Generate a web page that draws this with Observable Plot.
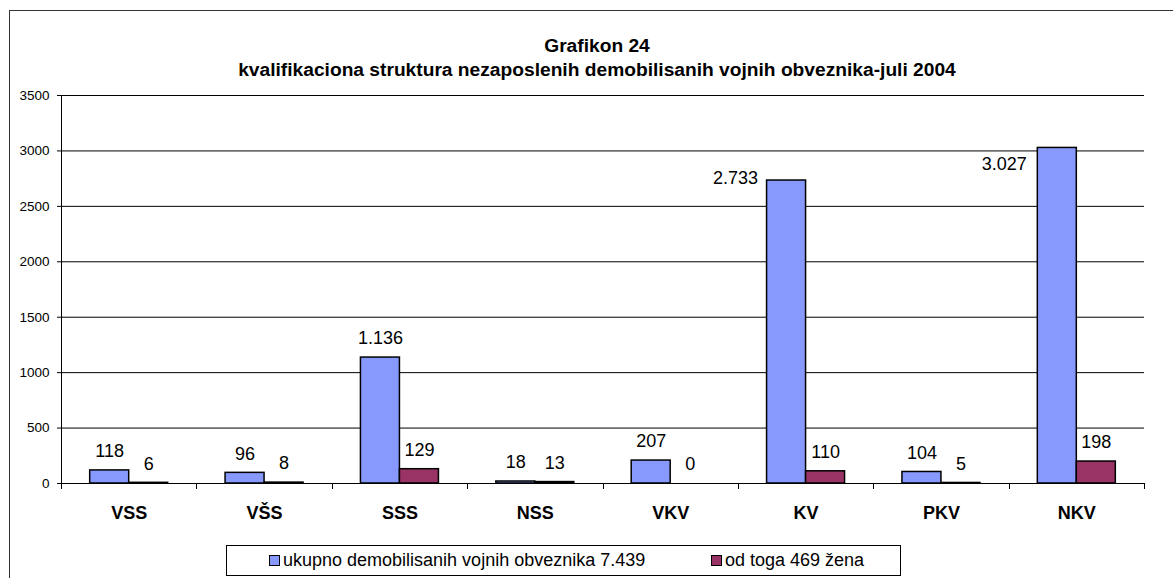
<!DOCTYPE html>
<html>
<head>
<meta charset="utf-8">
<script src="https://cdn.jsdelivr.net/npm/d3@7"></script>
<script src="https://cdn.jsdelivr.net/npm/@observablehq/plot@0.6"></script>
<style>
  html, body { margin: 0; padding: 0; background: #fff; overflow: hidden; }
  #wrap { position: relative; width: 1173px; height: 578px; overflow: hidden; font-family: Arial, "Liberation Sans", sans-serif; color: #000; }
  #border { position: absolute; left: 9px; top: 10px; width: 1200px; height: 600px; border: 1.5px solid #333; box-sizing: border-box; }
  #title { position: absolute; left: 9px; width: 1176px; top: 34px; text-align: center; font-weight: bold; font-size: 19.2px; line-height: 24px; }
  #chart { position: absolute; left: 0; top: 0; }
  #legend { position: absolute; left: 226px; top: 545px; width: 675px; height: 31px; border: 1px solid #000; box-sizing: border-box; background: #fff; font-size: 18px; }
  .item { position: absolute; top: 0; height: 29px; display: flex; align-items: center; white-space: nowrap; }
  .sw { width: 11px; height: 11px; border: 1.5px solid #000; box-sizing: border-box; margin-right: 3px; }
</style>
</head>
<body>
<div id="wrap">
  <div id="border"></div>
  <div id="chart"></div>
  <div id="title"></div>
  <div id="legend"></div>
</div>
<script>
const titleLines = ["Grafikon 24", "kvalifikaciona struktura nezaposlenih demobilisanih vojnih obveznika-juli 2004"];
const categories = ["VSS", "VŠS", "SSS", "NSS", "VKV", "KV", "PKV", "NKV"];
const ukupno = [118, 96, 1136, 18, 207, 2733, 104, 3027];
const zene = [6, 8, 129, 13, 0, 110, 5, 198];
const seriesNames = ["ukupno demobilisanih vojnih obveznika 7.439", "od toga 469 žena"];
const seriesColors = ["#8799fc", "#993366"];
const yTicks = [0, 500, 1000, 1500, 2000, 2500, 3000, 3500];

const fmt = d3.formatLocale({decimal: ",", thousands: ".", grouping: [3], currency: ["", ""]}).format(",");

const blueRows = categories.map((c, i) => ({cat: c, value: ukupno[i]}));
const redRows = categories.map((c, i) => ({cat: c, value: zene[i]}));

document.getElementById("title").innerHTML = titleLines.join("<br>");

const W = 1173, H = 578;
const mL = 61, mR = 29, mT = 95, mB = 95;
const step = (W - mL - mR) / categories.length;
const barW = 39;
const outer = step / 2 - barW;

const isTall = d => d.value > 2000;

const boundaryTicks = (index, scales, values, dims) => {
  const g = d3.create("svg:g").attr("stroke", "#000").attr("stroke-width", 1);
  const x = scales.x, y = scales.y;
  const x0 = x(categories[0]);
  const s = x(categories[1]) - x0;
  const yb = y(0), yt = y(yTicks[yTicks.length - 1]);
  for (let i = 0; i <= categories.length; i++) {
    const xx = Math.round(x0 + i * s) + 0.5;
    g.append("line").attr("x1", xx).attr("x2", xx).attr("y1", yb).attr("y2", yb + 6);
  }
  const xa = Math.round(x0) + 0.5;
  g.append("line").attr("x1", xa).attr("x2", xa).attr("y1", yt).attr("y2", yb);
  return g.node();
};

const chart = Plot.plot({
  width: W, height: H,
  marginLeft: mL, marginRight: mR, marginTop: mT, marginBottom: mB,
  style: {fontFamily: 'Arial, "Liberation Sans", sans-serif', fontSize: "13.5px", color: "#000", background: "transparent", overflow: "visible"},
  x: {domain: categories, padding: 0, round: false, label: null},
  y: {domain: [0, 3500], label: null},
  marks: [
    Plot.gridY(yTicks, {stroke: "#000", strokeOpacity: 1, strokeWidth: 1}),
    Plot.axisY({ticks: yTicks, tickSize: 4, tickPadding: 8, fontSize: 13.5, label: null, tickFormat: d => String(d)}),
    Plot.axisX({tickSize: 0, tickPadding: 23, fontSize: 18, fontWeight: "bold", label: null}),
    Plot.barY(blueRows, {x: "cat", y: "value", fill: seriesColors[0], stroke: "#000", strokeWidth: 1.5, insetLeft: outer, insetRight: step / 2}),
    Plot.barY(redRows, {x: "cat", y: "value", fill: seriesColors[1], stroke: "#000", strokeWidth: 1.5, insetLeft: step / 2, insetRight: outer}),
    Plot.ruleY([0], {stroke: "#000", strokeWidth: 1}),
    boundaryTicks,
    Plot.text(blueRows.filter(d => !isTall(d)), {x: "cat", y: "value", text: d => fmt(d.value), dx: -barW / 2, dy: -19, fontSize: 18, fill: "#000"}),
    Plot.text(blueRows.filter(d => d.cat === "KV"), {x: "cat", y: "value", text: d => fmt(d.value), dx: -barW - 9, dy: -2, fontSize: 18, fill: "#000", textAnchor: "end"}),
    Plot.text(blueRows.filter(d => d.cat === "NKV"), {x: "cat", y: "value", text: d => fmt(d.value), dx: -barW - 11, dy: 16, fontSize: 18, fill: "#000", textAnchor: "end"}),
    Plot.text(redRows, {x: "cat", y: "value", text: d => fmt(d.value), dx: barW / 2, dy: -19, fontSize: 18, fill: "#000"})
  ]
});
document.getElementById("chart").appendChild(chart);

document.getElementById("legend").innerHTML =
  `<div class="item" style="left:42px"><div class="sw" style="background:${seriesColors[0]}"></div>${seriesNames[0]}</div>` +
  `<div class="item" style="left:484px"><div class="sw" style="background:${seriesColors[1]}"></div>${seriesNames[1]}</div>`;
</script>
</body>
</html>
